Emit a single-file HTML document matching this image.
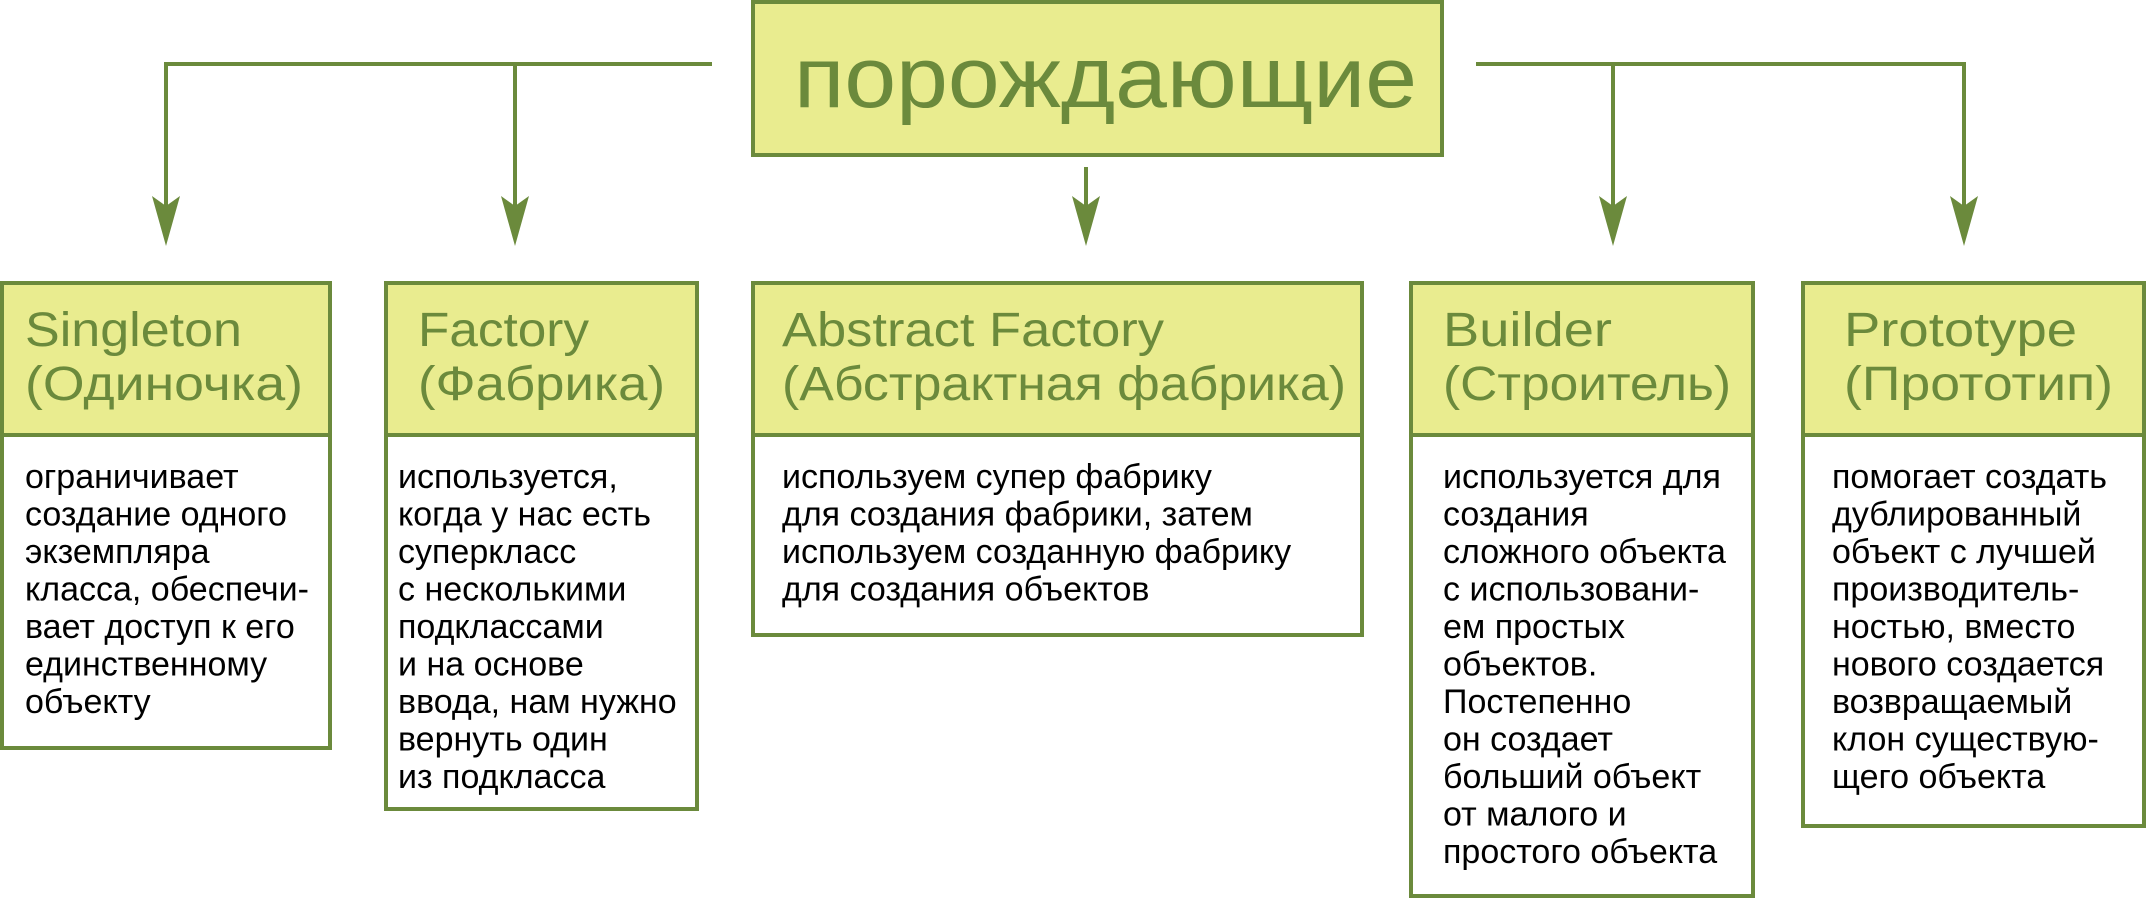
<!DOCTYPE html>
<html><head><meta charset="utf-8"><style>
html,body{margin:0;padding:0;background:#fff;}
svg{display:block;}
text{font-family:"Liberation Sans",sans-serif;}
.h{fill:#6b8a3c;font-size:48px;}
.b{fill:#000;font-size:34px;}
</style></head><body>
<svg width="2147" height="898" viewBox="0 0 2147 898" xmlns="http://www.w3.org/2000/svg">
<g stroke="#6b8a3c" stroke-width="4" fill="none">
<polyline points="712,64 166,64 166,215"/>
<line x1="515" y1="64" x2="515" y2="215"/>
<line x1="1086" y1="167" x2="1086" y2="215"/>
<polyline points="1476,64 1964,64 1964,215"/>
<line x1="1613" y1="64" x2="1613" y2="215"/>
</g>
<g fill="#6b8a3c">
<polygon points="152,196 166,206 180,196 166,246"/>
<polygon points="501,196 515,206 529,196 515,246"/>
<polygon points="1072,196 1086,206 1100,196 1086,246"/>
<polygon points="1599,196 1613,206 1627,196 1613,246"/>
<polygon points="1950,196 1964,206 1978,196 1964,246"/>
</g>
<rect x="753" y="2" width="689" height="153" fill="#e9ec8f" stroke="#6b8a3c" stroke-width="4"/>
<text x="794" y="107" style="fill:#6b8a3c;font-size:86px" textLength="623" lengthAdjust="spacingAndGlyphs">порождающие</text>

<g stroke="#6b8a3c" stroke-width="4">
<rect x="2" y="283" width="328" height="152" fill="#e9ec8f"/><rect x="2" y="435" width="328" height="313" fill="#fff"/>
<rect x="386" y="283" width="311" height="152" fill="#e9ec8f"/><rect x="386" y="435" width="311" height="374" fill="#fff"/>
<rect x="753" y="283" width="609" height="152" fill="#e9ec8f"/><rect x="753" y="435" width="609" height="200" fill="#fff"/>
<rect x="1411" y="283" width="342" height="152" fill="#e9ec8f"/><rect x="1411" y="435" width="342" height="461" fill="#fff"/>
<rect x="1803" y="283" width="341" height="152" fill="#e9ec8f"/><rect x="1803" y="435" width="341" height="391" fill="#fff"/>
</g>

<text class="h" x="25" y="346" textLength="217" lengthAdjust="spacingAndGlyphs">Singleton</text>
<text class="h" x="25" y="400" textLength="278" lengthAdjust="spacingAndGlyphs">(Одиночка)</text>
<text class="h" x="418" y="346" textLength="171" lengthAdjust="spacingAndGlyphs">Factory</text>
<text class="h" x="418" y="400" textLength="247" lengthAdjust="spacingAndGlyphs">(Фабрика)</text>
<text class="h" x="782" y="346" textLength="382" lengthAdjust="spacingAndGlyphs">Abstract Factory</text>
<text class="h" x="782" y="400" textLength="564" lengthAdjust="spacingAndGlyphs">(Абстрактная фабрика)</text>
<text class="h" x="1443" y="346" textLength="169" lengthAdjust="spacingAndGlyphs">Builder</text>
<text class="h" x="1443" y="400" textLength="288" lengthAdjust="spacingAndGlyphs">(Строитель)</text>
<text class="h" x="1844" y="346" textLength="233" lengthAdjust="spacingAndGlyphs">Prototype</text>
<text class="h" x="1844" y="400" textLength="269" lengthAdjust="spacingAndGlyphs">(Прототип)</text>

<text class="b" x="25" y="488">
<tspan x="25">ограничивает</tspan><tspan x="25" dy="37.5">создание одного</tspan><tspan x="25" dy="37.5">экземпляра</tspan><tspan x="25" dy="37.5">класса, обеспечи-</tspan><tspan x="25" dy="37.5">вает доступ к его</tspan><tspan x="25" dy="37.5">единственному</tspan><tspan x="25" dy="37.5">объекту</tspan>
</text>
<text class="b" x="398" y="488">
<tspan x="398">используется,</tspan><tspan x="398" dy="37.5">когда у нас есть</tspan><tspan x="398" dy="37.5">суперкласс</tspan><tspan x="398" dy="37.5">с несколькими</tspan><tspan x="398" dy="37.5">подклассами</tspan><tspan x="398" dy="37.5">и на основе</tspan><tspan x="398" dy="37.5">ввода, нам нужно</tspan><tspan x="398" dy="37.5">вернуть один</tspan><tspan x="398" dy="37.5">из подкласса</tspan>
</text>
<text class="b" x="782" y="488">
<tspan x="782">используем супер фабрику</tspan><tspan x="782" dy="37.5">для создания фабрики, затем</tspan><tspan x="782" dy="37.5">используем созданную фабрику</tspan><tspan x="782" dy="37.5">для создания объектов</tspan>
</text>
<text class="b" x="1443" y="488">
<tspan x="1443">используется для</tspan><tspan x="1443" dy="37.5">создания</tspan><tspan x="1443" dy="37.5">сложного объекта</tspan><tspan x="1443" dy="37.5">с использовани-</tspan><tspan x="1443" dy="37.5">ем простых</tspan><tspan x="1443" dy="37.5">объектов.</tspan><tspan x="1443" dy="37.5">Постепенно</tspan><tspan x="1443" dy="37.5">он создает</tspan><tspan x="1443" dy="37.5">больший объект</tspan><tspan x="1443" dy="37.5">от малого и</tspan><tspan x="1443" dy="37.5">простого объекта</tspan>
</text>
<text class="b" x="1832" y="488">
<tspan x="1832">помогает создать</tspan><tspan x="1832" dy="37.5">дублированный</tspan><tspan x="1832" dy="37.5">объект с лучшей</tspan><tspan x="1832" dy="37.5">производитель-</tspan><tspan x="1832" dy="37.5">ностью, вместо</tspan><tspan x="1832" dy="37.5">нового создается</tspan><tspan x="1832" dy="37.5">возвращаемый</tspan><tspan x="1832" dy="37.5">клон существую-</tspan><tspan x="1832" dy="37.5">щего объекта</tspan>
</text>
</svg>
</body></html>
